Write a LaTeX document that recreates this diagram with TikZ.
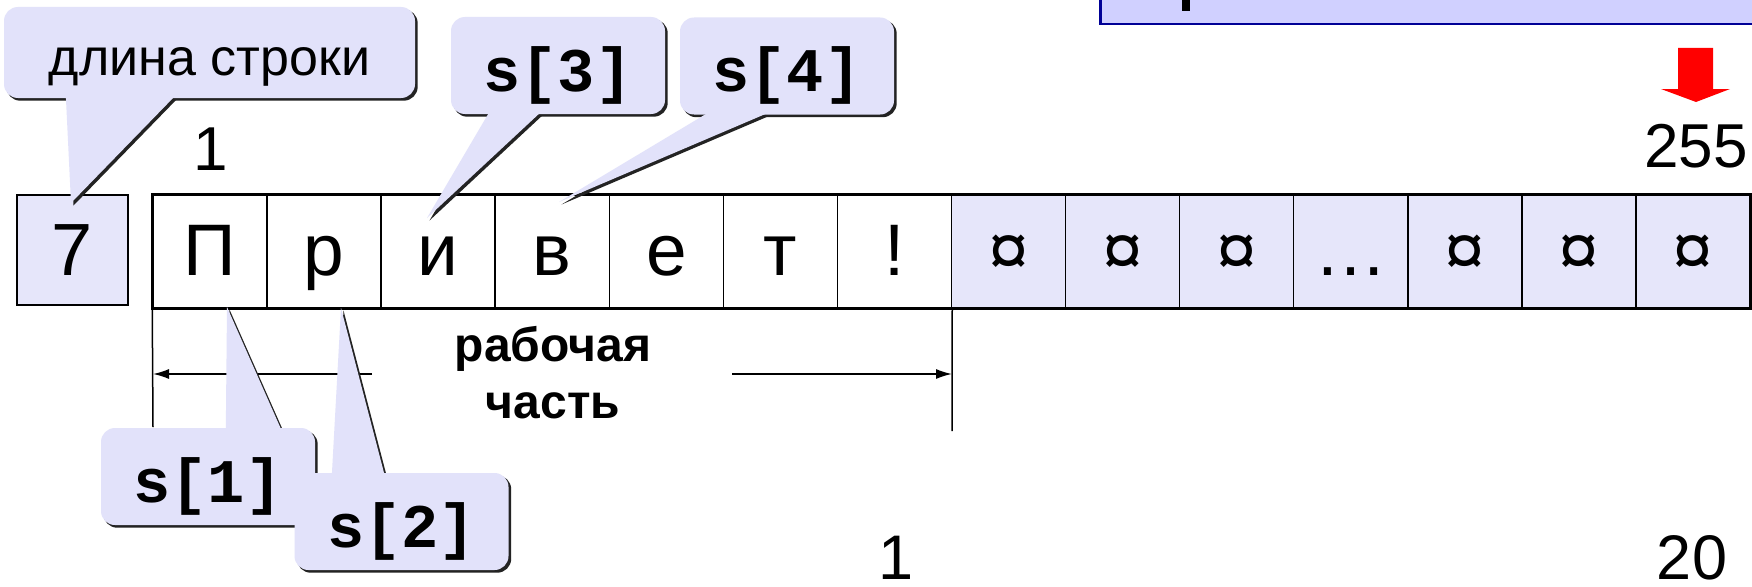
\documentclass[tikz,border=0pt]{standalone}
\usepackage{fontspec}
\setmainfont{Liberation Sans}
\newfontfamily\codefont{Liberation Mono}
\usetikzlibrary{arrows.meta}

\definecolor{cellfill}{RGB}{230,230,250}
\definecolor{tipfill}{RGB}{226,226,250}
\definecolor{shadowgray}{RGB}{35,35,35}
\definecolor{boxfill}{RGB}{208,208,255}
\definecolor{boxline}{RGB}{0,0,150}
\definecolor{arrowred}{RGB}{255,0,0}

\pgfdeclarelayer{rowlayer}
\pgfdeclarelayer{shadelayer}
\pgfsetlayers{rowlayer,shadelayer,main}

\newcommand\fsz[1]{\fontsize{#1}{#1}\selectfont}

% shadow under a rounded callout body
\newcommand\bodyshadow[1]{%
  \begin{pgfonlayer}{shadelayer}
    \fill[shadowgray, rounded corners=14pt]
      ([shift={(2.5,2.5)}]#1.south west) rectangle ([shift={(2.5,2.5)}]#1.north east);
  \end{pgfonlayer}}

% callout tail: #1 corner anchor, #2/#3 left/right offsets, #4 vertical overlap, #5 tip
\newcommand\calltail[5]{%
  \begin{pgfonlayer}{shadelayer}
    \fill[shadowgray] ([shift={(#2+2.5,#4+2.5)}]#1) -- ([shift={(2.5,2.5)}]#5)
      -- ([shift={(#3+2.5,#4+2.5)}]#1) -- cycle;
  \end{pgfonlayer}
  \fill[tipfill] ([shift={(#2,#4)}]#1) -- (#5) -- ([shift={(#3,#4)}]#1) -- cycle;}

\begin{document}
\begin{tikzpicture}[x=1pt,y=-1pt,
  cellbox/.style={draw, line width=1.5pt, minimum width=114.07pt, minimum height=113pt,
    inner sep=0pt, text height=52pt, text depth=5pt, font=\fsz{73}},
  usedcell/.style={cellbox, fill=white},
  sparecell/.style={cellbox, fill=cellfill},
  codecall/.style={fill=tipfill, rounded corners=14pt, inner sep=0pt,
    minimum width=214pt, minimum height=97pt, text height=56pt, text depth=4pt,
    font=\codefont\bfseries\fsz{62}},
  dimline/.style={line width=1.5pt},
  dimarrow/.style={line width=1.5pt, -{Latex[length=16pt,width=10pt]}},
  numlabel/.style={anchor=base, inner sep=0pt, font=\fsz{62}},
  pagelabel/.style={anchor=base, inner sep=0pt, text depth=0pt, font=\fsz{63}},
  partlabel/.style={anchor=base, inner sep=0pt, font=\bfseries\fsz{48}}
]
\useasboundingbox (0,0) rectangle (1752,586);

\begin{pgfonlayer}{rowlayer}
  \fill[white] (0,0) rectangle (1752,586);

  % header panel running off the top edge
  \filldraw[fill=boxfill, draw=boxline, line width=2.7pt] (1100.5,-40) rectangle (1800,24);
  \fill[black] (1182,-5) rectangle (1190,11);

  % length byte
  \node[draw, line width=2pt, fill=cellfill, minimum width=111pt, minimum height=110pt,
        inner sep=0pt, text height=54pt, text depth=4pt, font=\fsz{74}] (lenbox) at (72.5,250) {7};

  % character cells
  \foreach \ch [count=\i] in {П,р,и,в,е,т,!}
    \node[usedcell] (c\i) at ({153+114.07*(\i-0.5)},251.5) {\ch};
  \foreach \ch [count=\i from 8] in {¤,¤,¤,…,¤,¤,¤}
    \node[sparecell] (c\i) at ({153+114.07*(\i-0.5)},251.5) {\ch};
  \draw[line width=2.5pt] (c1.north west) rectangle (c14.south east);

  % index labels
  \node[numlabel] (first) at (211,170) {1};
  \node[numlabel] (last) at (1696,167) {255};
  \fill[arrowred] (1678,48) -- (1713,48) -- (1713,89) -- (1730,89) -- (1696,102)
    -- (1661,89) -- (1678,89) -- cycle;

  % extent of the used part
  \coordinate (dl) at (153,427);
  \coordinate (dr) at (952,431);
  \coordinate (al) at (372,374);
  \coordinate (ar) at (732,374);
  \draw[dimline] (c1.south west) -- (dl);
  \draw[dimline] (c7.south east) -- (dr);
  \draw[dimarrow] (al) -- (al -| dl);
  \draw[dimarrow] (ar) -- (ar -| dr);
  \node[partlabel] (partA) at (553,361) {рабочая};
  \node[partlabel] (partB) at (553,418) {часть};

  % page numbers
  \node[pagelabel] (pgA) at (896,579) {1};
  \node[pagelabel] (pgB) at (1692,579) {20};
\end{pgfonlayer}

% tip points of the callouts
\coordinate (t0) at (71,203);
\coordinate (t1) at (227,307);
\coordinate (t2) at (341,308);
\coordinate (t3) at (427,218);
\coordinate (t4) at (559,202);

% "длина строки"
\node[fill=tipfill, rounded corners=14pt, inner sep=0pt, minimum width=411pt, minimum height=91pt,
      text height=50pt, text depth=5pt, font=\fsz{52}] (lencall) at (209.5,52.5) {длина строки};
\bodyshadow{lencall}
\calltail{lencall.south west}{62}{172}{-3}{t0}

% s[3], s[4]
\node[codecall] (s3) at (558,65.5) {s[3]};
\bodyshadow{s3}
\calltail{s3.south west}{39}{91}{-3}{t3}
\node[codecall] (s4) at (787,66) {s[4]};
\bodyshadow{s4}
\calltail{s4.south west}{30}{91}{-3}{t4}

% s[1], s[2]
\node[codecall] (s1) at (208,476.5) {s[1]};
\bodyshadow{s1}
\calltail{s1.north west}{125}{181}{3}{t1}
\node[codecall] (s2) at (401.5,521.5) {s[2]};
\bodyshadow{s2}
\calltail{s2.north west}{37.5}{90.5}{3}{t2}
\end{tikzpicture}
\end{document}
